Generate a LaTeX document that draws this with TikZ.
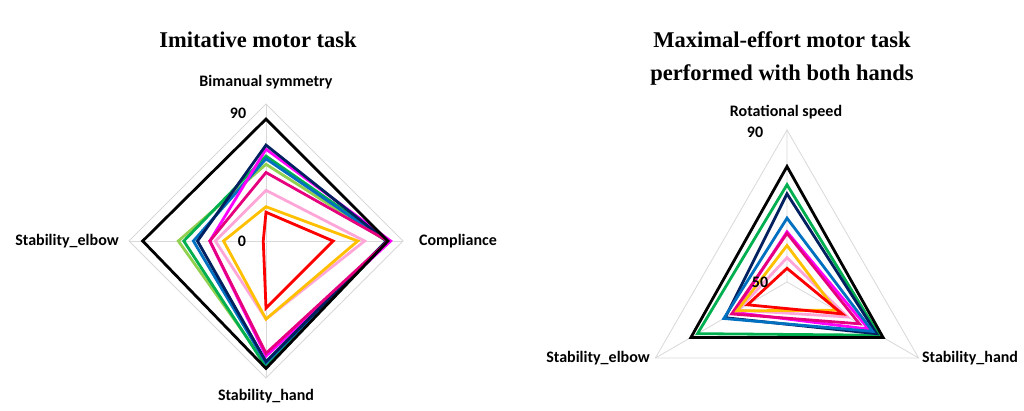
\documentclass[tikz,border=0pt]{standalone}
\usepackage{fontspec}
\setmainfont{Liberation Serif}
\newfontfamily\lab{Carlito}
\definecolor{cnavy}{HTML}{002060}
\definecolor{cblue}{HTML}{0070C0}
\definecolor{cgreen}{HTML}{00B050}
\definecolor{clgreen}{HTML}{92D050}
\definecolor{cmag}{HTML}{FF00FF}
\definecolor{cdpink}{HTML}{E6007E}
\definecolor{clpink}{HTML}{FFA6D9}
\definecolor{cyel}{HTML}{FFC000}
\definecolor{cred}{HTML}{FF0000}
\newcommand\lpoly[5]{\draw[ser,#1] (90:{137*#2}) -- (0:{137*#3}) -- (-90:{137*#4}) -- (180:{137*#5}) -- cycle;}
\newcommand\rpoly[4]{\draw[ser,#1] (90:{152*#2}) -- (-30:{152*#3}) -- (210:{152*#4}) -- cycle;}
\begin{document}
\begin{tikzpicture}[x=1pt,y=1pt,
  ser/.style={line width=2.8pt,line join=miter},
  grid/.style={draw=black!15,line width=0.8pt},
  lbl/.style={font=\lab\bfseries\fontsize{16}{18}\selectfont,inner sep=0pt},
  ttl/.style={font=\bfseries\fontsize{22.5}{33}\selectfont,align=center,inner sep=0pt}]
\useasboundingbox (0,0) rectangle (1024,410);
\fill[white] (0,0) rectangle (1024,410);
\node[ttl] (t1) at (258,370) {Imitative motor task};
\node[ttl] (t2) at (782,352) {Maximal-effort motor task\\performed with both hands};
\begin{scope}[shift={(266,169)}]
\draw[grid] (90:137) -- (0:137) -- (-90:137) -- (180:137) -- cycle;
\draw[grid] (-137,0) -- (137,0) (0,-137) -- (0,137);
\lpoly{clgreen}{0.56}{0.88}{0.90}{0.64}
\lpoly{cgreen}{0.62}{0.89}{0.92}{0.60}
\lpoly{cblue}{0.60}{0.88}{0.89}{0.53}
\lpoly{cmag}{0.67}{0.91}{0.84}{0.41}
\lpoly{cnavy}{0.70}{0.88}{0.88}{0.50}
\lpoly{cdpink}{0.50}{0.89}{0.82}{0.41}
\lpoly{clpink}{0.37}{0.72}{0.57}{0.37}
\lpoly{cyel}{0.25}{0.67}{0.57}{0.31}
\lpoly{cred}{0.21}{0.49}{0.49}{0.02}
\lpoly{black}{0.89}{0.89}{0.93}{0.90}
\end{scope}
\node[lbl] (l90) at (238,297) {90};
\node[lbl] (l0) at (242,169) {0};
\node[lbl] (lb) at (266,328) {Bimanual symmetry};
\node[lbl] (le) at (67,169) {Stability\_elbow};
\node[lbl] (lc) at (458,169) {Compliance};
\node[lbl] (lh) at (266,14) {Stability\_hand};
\begin{scope}[shift={(787,128)}]
\draw[grid] (90:152) -- (-30:152) -- (210:152) -- cycle;
\draw[grid] (0,0) -- (90:152) (0,0) -- (-30:152) (0,0) -- (210:152);
\rpoly{cmag}{0.33}{0.62}{0.40}
\rpoly{cgreen}{0.64}{0.70}{0.68}
\rpoly{cnavy}{0.58}{0.68}{0.47}
\rpoly{cblue}{0.42}{0.65}{0.48}
\rpoly{cdpink}{0.32}{0.55}{0.42}
\rpoly{clpink}{0.16}{0.46}{0.37}
\rpoly{cyel}{0.24}{0.37}{0.38}
\rpoly{cred}{0.09}{0.42}{0.30}
\rpoly{black}{0.76}{0.73}{0.73}
\end{scope}
\node[lbl] (r90) at (755,278) {90};
\node[lbl] (r50) at (760,128) {50};
\node[lbl] (rr) at (786,298) {Rotational speed};
\node[lbl] (re) at (598,52) {Stability\_elbow};
\node[lbl] (rh) at (970,52) {Stability\_hand};
\end{tikzpicture}
\end{document}
